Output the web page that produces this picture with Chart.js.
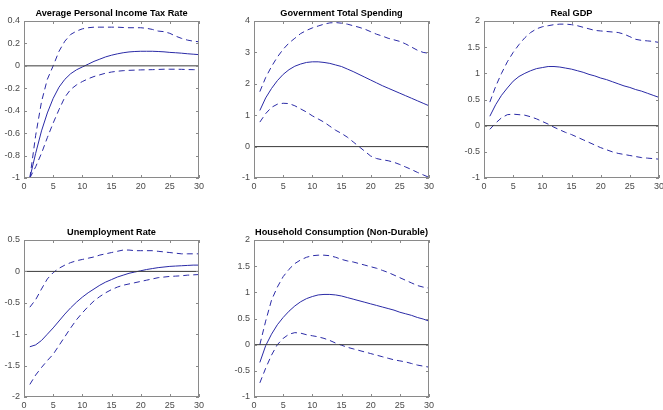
<!DOCTYPE html>
<html>
<head>
<meta charset="utf-8">
<script src="https://cdn.jsdelivr.net/npm/chart.js@4.4.1/dist/chart.umd.min.js"></script>
<style>
  html, body { margin: 0; padding: 0; background: #fff; }
  body { width: 663px; height: 410px; position: relative; overflow: hidden; }
  canvas { position: absolute; }
</style>
</head>
<body>
<canvas id="c1"></canvas>
<canvas id="c2"></canvas>
<canvas id="c3"></canvas>
<canvas id="c4"></canvas>
<canvas id="c5"></canvas>
<script>
const periods = [1, 2, 3, 4, 5, 6, 7, 8, 9, 10, 11, 12, 13, 14, 15, 16, 17, 18, 19, 20, 21, 22, 23, 24, 25, 26, 27, 28, 29, 30]

// Average Personal Income Tax Rate
const taxMid = [-1, -0.78, -0.58, -0.42, -0.29, -0.19, -0.12, -0.07, -0.035, -0.01, 0.015, 0.04, 0.06, 0.08, 0.095, 0.107, 0.117, 0.124, 0.128, 0.13, 0.13, 0.13, 0.128, 0.125, 0.12, 0.117, 0.113, 0.108, 0.104, 0.1]
const taxHigh = [-1, -0.62, -0.32, -0.12, 0, 0.13, 0.22, 0.28, 0.31, 0.33, 0.34, 0.345, 0.345, 0.345, 0.345, 0.345, 0.342, 0.34, 0.34, 0.34, 0.335, 0.325, 0.31, 0.305, 0.29, 0.265, 0.245, 0.23, 0.22, 0.215]
const taxLow = [-1, -0.9, -0.78, -0.64, -0.51, -0.39, -0.28, -0.21, -0.17, -0.14, -0.115, -0.095, -0.08, -0.065, -0.055, -0.048, -0.043, -0.04, -0.038, -0.036, -0.035, -0.034, -0.032, -0.03, -0.03, -0.03, -0.031, -0.033, -0.034, -0.035]

// Government Total Spending
const govMid = [1.15, 1.55, 1.85, 2.1, 2.3, 2.45, 2.56, 2.63, 2.68, 2.7, 2.7, 2.68, 2.65, 2.6, 2.55, 2.47, 2.39, 2.3, 2.21, 2.12, 2.03, 1.94, 1.86, 1.78, 1.7, 1.62, 1.54, 1.46, 1.38, 1.3]
const govHigh = [1.75, 2.2, 2.55, 2.85, 3.1, 3.3, 3.45, 3.6, 3.7, 3.78, 3.84, 3.9, 3.94, 3.95, 3.93, 3.9, 3.85, 3.8, 3.74, 3.66, 3.58, 3.52, 3.45, 3.4, 3.35, 3.27, 3.17, 3.07, 3.0, 2.97]
const govLow = [0.78, 1.05, 1.25, 1.35, 1.38, 1.37, 1.3, 1.2, 1.1, 0.98, 0.88, 0.78, 0.65, 0.52, 0.42, 0.3, 0.15, 0, -0.15, -0.3, -0.38, -0.42, -0.45, -0.5, -0.57, -0.65, -0.73, -0.82, -0.9, -0.98]

// Real GDP
const gdpMid = [0.18, 0.4, 0.58, 0.72, 0.85, 0.94, 1.0, 1.05, 1.09, 1.11, 1.13, 1.13, 1.12, 1.1, 1.08, 1.05, 1.02, 0.98, 0.95, 0.91, 0.88, 0.84, 0.8, 0.76, 0.73, 0.69, 0.66, 0.62, 0.58, 0.54]
const gdpHigh = [0.45, 0.75, 1.0, 1.22, 1.4, 1.55, 1.68, 1.78, 1.85, 1.89, 1.91, 1.93, 1.94, 1.94, 1.93, 1.91, 1.88, 1.85, 1.82, 1.81, 1.8, 1.79, 1.78, 1.75, 1.7, 1.65, 1.63, 1.62, 1.61, 1.59]
const gdpLow = [-0.07, 0.05, 0.15, 0.21, 0.22, 0.21, 0.2, 0.17, 0.13, 0.08, 0.03, -0.03, -0.08, -0.13, -0.17, -0.22, -0.27, -0.32, -0.37, -0.42, -0.46, -0.5, -0.53, -0.55, -0.57, -0.59, -0.61, -0.62, -0.63, -0.64]

// Unemployment Rate
const unMid = [-1.2, -1.17, -1.1, -1.0, -0.9, -0.79, -0.68, -0.58, -0.49, -0.41, -0.34, -0.28, -0.22, -0.17, -0.13, -0.09, -0.06, -0.03, -0.01, 0.01, 0.03, 0.045, 0.06, 0.07, 0.08, 0.085, 0.09, 0.095, 0.1, 0.1]
const unHigh = [-0.57, -0.45, -0.28, -0.12, -0.02, 0.05, 0.1, 0.14, 0.17, 0.19, 0.21, 0.23, 0.26, 0.28, 0.3, 0.32, 0.34, 0.34, 0.33, 0.33, 0.33, 0.33, 0.32, 0.31, 0.3, 0.29, 0.28, 0.28, 0.28, 0.28]
const unLow = [-1.8, -1.65, -1.53, -1.42, -1.32, -1.18, -1.04, -0.9, -0.77, -0.66, -0.56, -0.47, -0.4, -0.34, -0.29, -0.25, -0.22, -0.2, -0.18, -0.16, -0.14, -0.12, -0.1, -0.09, -0.08, -0.075, -0.07, -0.06, -0.055, -0.05]

// Household Consumption (Non-Durable)
const conMid = [-0.34, -0.02, 0.2, 0.38, 0.52, 0.64, 0.74, 0.82, 0.88, 0.92, 0.95, 0.96, 0.96, 0.95, 0.93, 0.9, 0.87, 0.84, 0.81, 0.78, 0.75, 0.72, 0.69, 0.66, 0.62, 0.59, 0.56, 0.52, 0.49, 0.45]
const conHigh = [0, 0.45, 0.85, 1.1, 1.3, 1.44, 1.55, 1.62, 1.67, 1.7, 1.71, 1.71, 1.7, 1.67, 1.63, 1.6, 1.58, 1.55, 1.52, 1.49, 1.46, 1.42, 1.38, 1.33, 1.28, 1.23, 1.18, 1.13, 1.1, 1.08]
const conLow = [-0.73, -0.45, -0.2, 0, 0.12, 0.2, 0.23, 0.22, 0.19, 0.17, 0.15, 0.12, 0.08, 0.03, -0.01, -0.05, -0.08, -0.11, -0.14, -0.17, -0.2, -0.23, -0.26, -0.29, -0.31, -0.33, -0.36, -0.39, -0.41, -0.43]

const lineBlue = '#2a2aa6'
const frameGrey = '#8a8a8a'
const labelGrey = '#4a4a4a'

// canvas left/top, plot area fixed at 175 x 157
const panels = [
	{ id: 'c1', left: 0, top: 0, w: 212, h: 200, title: 'Average Personal Income Tax Rate', mid: taxMid, high: taxHigh, low: taxLow, min: -1, max: 0.4, step: 0.2 },
	{ id: 'c2', left: 230, top: 0, w: 212, h: 200, title: 'Government Total Spending', mid: govMid, high: govHigh, low: govLow, min: -1, max: 4, step: 1 },
	{ id: 'c3', left: 460, top: 0, w: 203, h: 200, title: 'Real GDP', mid: gdpMid, high: gdpHigh, low: gdpLow, min: -1, max: 2, step: 0.5 },
	{ id: 'c4', left: 0, top: 219, w: 212, h: 191, title: 'Unemployment Rate', mid: unMid, high: unHigh, low: unLow, min: -2, max: 0.5, step: 0.5 },
	{ id: 'c5', left: 230, top: 219, w: 212, h: 191, title: 'Household Consumption (Non-Durable)', mid: conMid, high: conHigh, low: conLow, min: -1, max: 2, step: 0.5 },
]

// matlab style box with inward ticks, title centred over the axes
const boxFrame = {
	id: 'boxFrame',
	afterDatasetsDraw(chart, args, opts) {
		const { ctx, chartArea: a, scales } = chart
		ctx.save()
		ctx.strokeStyle = frameGrey
		ctx.lineWidth = 1
		ctx.strokeRect(a.left + 0.5, a.top + 0.5, a.right - a.left - 1, a.bottom - a.top - 1)
		ctx.beginPath()
		scales.x.ticks.forEach((t) => {
			const px = Math.round(scales.x.getPixelForValue(t.value)) + 0.5
			ctx.moveTo(px, a.bottom)
			ctx.lineTo(px, a.bottom - 3)
			ctx.moveTo(px, a.top)
			ctx.lineTo(px, a.top + 3)
		})
		scales.y.ticks.forEach((t) => {
			const py = Math.round(scales.y.getPixelForValue(t.value)) + 0.5
			ctx.moveTo(a.left, py)
			ctx.lineTo(a.left + 3, py)
			ctx.moveTo(a.right, py)
			ctx.lineTo(a.right - 3, py)
		})
		ctx.stroke()

		ctx.fillStyle = '#000'
		ctx.font = 'bold 9.2px "Liberation Sans", Arial'
		ctx.textAlign = 'center'
		ctx.textBaseline = 'middle'
		ctx.fillText(opts.text, (a.left + a.right) / 2, a.top - 8)
		ctx.restore()
	},
}

const toPoints = (vals) => periods.map((p, i) => ({ x: p, y: vals[i] }))
const tickText = (v) => String(+Number(v).toFixed(2))

panels.forEach((p) => {
	const cv = document.getElementById(p.id)
	cv.width = p.w
	cv.height = p.h
	cv.style.left = p.left + 'px'
	cv.style.top = p.top + 'px'
	const bottomH = p.h - 21 - 157

	new Chart(cv, {
		type: 'line',
		data: {
			datasets: [
				{ data: [{ x: 0, y: 0 }, { x: 30, y: 0 }], borderColor: '#3a3a3a', borderWidth: 1 },
				{ data: toPoints(p.high), borderColor: lineBlue, borderWidth: 1, borderDash: [6, 4] },
				{ data: toPoints(p.low), borderColor: lineBlue, borderWidth: 1, borderDash: [6, 4] },
				{ data: toPoints(p.mid), borderColor: lineBlue, borderWidth: 1 },
			],
		},
		options: {
			responsive: false,
			animation: false,
			devicePixelRatio: 1,
			layout: { padding: { left: 0, right: p.w - 24 - 175, top: 21, bottom: 0 } },
			elements: { point: { radius: 0 }, line: { tension: 0 } },
			plugins: {
				legend: { display: false },
				tooltip: { enabled: false },
				title: { display: false },
				boxFrame: { text: p.title },
			},
			scales: {
				x: {
					type: 'linear',
					min: 0,
					max: 30,
					grid: { display: false, drawTicks: false },
					border: { display: false },
					ticks: {
						stepSize: 5,
						padding: 3,
						maxRotation: 0,
						color: labelGrey,
						font: { family: 'Liberation Sans, Arial', size: 9 },
						callback: tickText,
					},
					afterFit(s) {
						s.height = bottomH
						s.paddingLeft = 0
						s.paddingRight = 0
					},
				},
				y: {
					min: p.min,
					max: p.max,
					grid: { display: false, drawTicks: false },
					border: { display: false },
					ticks: {
						stepSize: p.step,
						padding: 4,
						color: labelGrey,
						font: { family: 'Liberation Sans, Arial', size: 9 },
						callback: tickText,
					},
					afterFit(s) {
						s.width = 24
						s.paddingTop = 0
						s.paddingBottom = 0
					},
				},
			},
		},
		plugins: [boxFrame],
	})
})
</script>
</body>
</html>
